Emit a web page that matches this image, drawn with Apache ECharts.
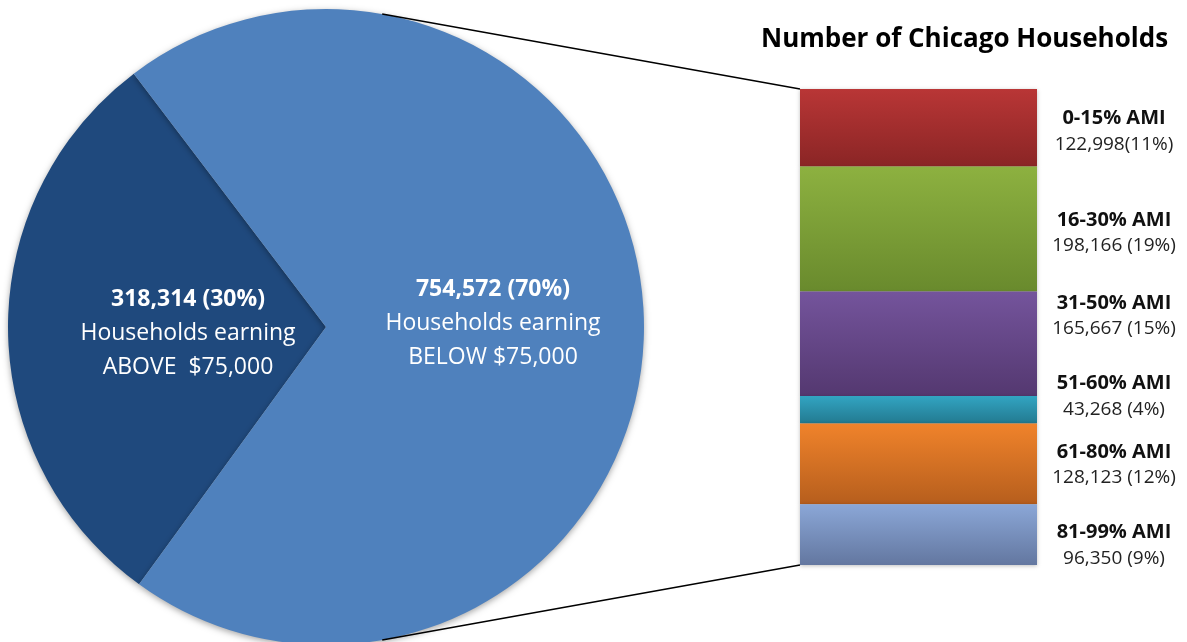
<!DOCTYPE html>
<html>
<head>
<meta charset="utf-8">
<script src="https://cdn.jsdelivr.net/npm/echarts@6/dist/echarts.min.js"></script>
<style>
  html, body { margin: 0; padding: 0; background: #fff; }
  #main { width: 1187px; height: 642px; }
</style>
</head>
<body>
<div id="main"></div>
<script>
// pie: households above / below $75,000
var pieNames = ['ABOVE  $75,000', 'BELOW $75,000'];
var pieValues = [318314, 754572];

// bar: breakdown of the below-$75,000 group
var amiNames = ['0-15% AMI', '16-30% AMI', '31-50% AMI', '51-60% AMI', '61-80% AMI', '81-99% AMI'];
var amiValues = [122998, 198166, 165667, 43268, 128123, 96350];
var amiPct = ['(11%)', ' (19%)', ' (15%)', ' (4%)', ' (12%)', ' (9%)'];

var FONT = '"Open Sans", "Liberation Sans", sans-serif';
var pieCenter = [326, 327], pieRadius = 318;
var barGrid = { left: 800, top: 89, width: 237, height: 476 };

var amiColors = [
  ['#B93636', '#8A2525'],
  ['#8DB140', '#698A2D'],
  ['#74549C', '#543870'],
  ['#32A4C2', '#237A90'],
  ['#F0832B', '#B65E1D'],
  ['#8BA7D7', '#6377A0']
];
var labelShift = [4, 4, -28, -13, 1, 11];

var total = pieValues.reduce(function (a, b) { return a + b; }, 0);
var belowTotal = amiValues.reduce(function (a, b) { return a + b; }, 0);

function fmt(v) { return v.toLocaleString('en-US'); }

var chart = echarts.init(document.getElementById('main'));

var barSeries = amiNames.map(function (name, i) {
  return {
    name: name,
    type: 'bar',
    stack: 'ami',
    barWidth: '100%',
    data: [amiValues[i]],
    itemStyle: {
      color: new echarts.graphic.LinearGradient(0, 0, 0, 1, [
        { offset: 0, color: amiColors[i][0] },
        { offset: 1, color: amiColors[i][1] }
      ]),
      shadowBlur: 4,
      shadowColor: 'rgba(0,0,0,0.25)',
      shadowOffsetY: 1
    },
    label: {
      show: true,
      position: 'right',
      distance: 77,
      align: 'center',
      offset: [0, labelShift[i]],
      formatter: '{b|' + name + '}\n{v|' + fmt(amiValues[i]) + amiPct[i] + '}',
      rich: {
        b: { fontFamily: FONT, fontSize: 20, fontWeight: 'bold', color: '#111', lineHeight: 26, align: 'center' },
        v: { fontFamily: FONT, fontSize: 19, color: '#222', lineHeight: 26, align: 'center' }
      }
    }
  };
});

var option = {
  animation: false,
  backgroundColor: '#fff',
  title: {
    text: 'Number of Chicago Households',
    left: 756,
    top: 22,
    textStyle: { fontFamily: FONT, fontSize: 26, fontWeight: 'bold', color: '#000' }
  },
  grid: barGrid,
  xAxis: { type: 'category', data: ['below'], show: false },
  yAxis: { type: 'value', inverse: true, min: 0, max: belowTotal, show: false },
  series: [{
    type: 'pie',
    center: pieCenter,
    radius: pieRadius,
    startAngle: 234,
    clockwise: true,
    silent: true,
    data: pieNames.map(function (n, i) { return { name: n, value: pieValues[i] }; }),
    itemStyle: {
      shadowBlur: 6,
      shadowColor: 'rgba(0,0,0,0.35)',
      shadowOffsetY: 2
    },
    color: ['#1F497D', '#4F81BD'],
    label: {
      show: true,
      position: 'inside',
      formatter: function (p) {
        return '{t|' + fmt(p.value) + ' (' + Math.round(p.value / total * 100) + '%)}\n{s|Households earning}\n{s|' + p.name + '}';
      },
      rich: {
        t: { fontFamily: FONT, fontSize: 23, fontWeight: 'bold', color: '#fff', lineHeight: 34, align: 'center' },
        s: { fontFamily: FONT, fontSize: 23, color: '#fff', lineHeight: 34, align: 'center' }
      }
    },
    labelLine: { show: false },
    labelLayout: function (p) {
      return p.dataIndex === 0 ? { dx: 12, dy: 2.5 } : { dx: 2.5, dy: -1 };
    }
  }].concat(barSeries)
};

chart.setOption(option);

// connector lines: tangents from the bar's corners to the pie
function tangent(px, py, upper) {
  var dx = px - pieCenter[0], dy = py - pieCenter[1];
  var d = Math.sqrt(dx * dx + dy * dy);
  var base = Math.atan2(dy, dx);
  var off = Math.acos(pieRadius / d);
  var a = upper ? base - off : base + off;
  return [pieCenter[0] + pieRadius * Math.cos(a), pieCenter[1] + pieRadius * Math.sin(a)];
}
var topY = chart.convertToPixel({ yAxisIndex: 0 }, 0);
var botY = chart.convertToPixel({ yAxisIndex: 0 }, belowTotal);
var x0 = barGrid.left;
var t1 = tangent(x0, topY, true);
var t2 = tangent(x0, botY, false);
chart.setOption({
  graphic: [
    { type: 'line', shape: { x1: t1[0], y1: t1[1], x2: x0, y2: topY }, style: { stroke: '#000', lineWidth: 1.5 }, z: 10 },
    { type: 'line', shape: { x1: t2[0], y1: t2[1], x2: x0, y2: botY }, style: { stroke: '#000', lineWidth: 1.5 }, z: 10 }
  ]
});
</script>
</body>
</html>
